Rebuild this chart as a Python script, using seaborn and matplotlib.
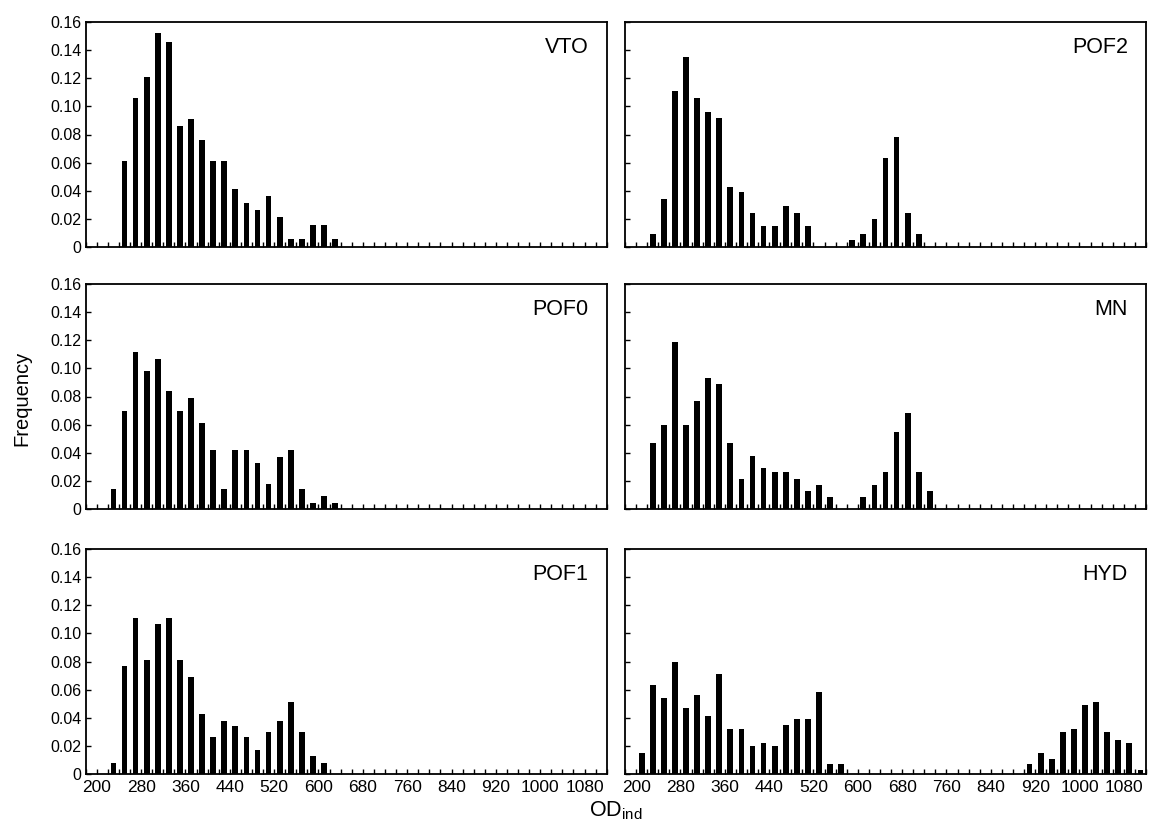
import numpy as np
import pandas as pd
import matplotlib
matplotlib.use("Agg")
import matplotlib.pyplot as plt
import seaborn as sns
from matplotlib.ticker import MultipleLocator, FuncFormatter

sns.set_style("ticks")
plt.rcParams['font.family'] = ['Liberation Sans', 'DejaVu Sans']
plt.rcParams['mathtext.fontset'] = 'custom'
plt.rcParams['mathtext.rm'] = 'Liberation Sans'
plt.rcParams['mathtext.it'] = 'Liberation Sans:italic'
plt.rcParams['text.color'] = 'black'
plt.rcParams['xtick.color'] = 'black'
plt.rcParams['ytick.color'] = 'black'
plt.rcParams['axes.labelcolor'] = 'black'
plt.rcParams['axes.edgecolor'] = 'black'

# ---------------- data (bin centres of OD_ind, frequency) ----------------
panels = ["VTO", "POF2", "POF0", "MN", "POF1", "HYD"]

vto_x = [250, 270, 290, 310, 330, 350, 370, 390, 410, 430,
         450, 470, 490, 510, 530, 550, 570, 590, 610, 630]
vto_y = [0.061, 0.106, 0.121, 0.152, 0.146, 0.086, 0.091, 0.076, 0.061, 0.061,
         0.041, 0.031, 0.026, 0.036, 0.021, 0.006, 0.006, 0.016, 0.016, 0.006]

pof2_x = [230, 250, 270, 290, 310, 330, 350, 370, 390, 410, 430, 450, 470, 490, 510,
          590, 610, 630, 650, 670, 690, 710]
pof2_y = [0.009, 0.034, 0.111, 0.135, 0.106, 0.096, 0.092, 0.043, 0.039, 0.024,
          0.015, 0.015, 0.029, 0.024, 0.015,
          0.005, 0.009, 0.020, 0.063, 0.078, 0.024, 0.009]

pof0_x = [230, 250, 270, 290, 310, 330, 350, 370, 390, 410, 430,
          450, 470, 490, 510, 530, 550, 570, 590, 610, 630]
pof0_y = [0.014, 0.070, 0.112, 0.098, 0.107, 0.084, 0.070, 0.079, 0.061, 0.042, 0.014,
          0.042, 0.042, 0.033, 0.018, 0.037, 0.042, 0.014, 0.0045, 0.009, 0.0045]

mn_x = [230, 250, 270, 290, 310, 330, 350, 370, 390, 410, 430, 450, 470, 490, 510, 530, 550,
        610, 630, 650, 670, 690, 710, 730]
mn_y = [0.047, 0.060, 0.119, 0.060, 0.077, 0.093, 0.089, 0.047, 0.021, 0.038, 0.029,
        0.026, 0.026, 0.021, 0.013, 0.017, 0.0085,
        0.0085, 0.017, 0.026, 0.055, 0.068, 0.026, 0.013]

pof1_x = [230, 250, 270, 290, 310, 330, 350, 370, 390, 410,
          430, 450, 470, 490, 510, 530, 550, 570, 590, 610]
pof1_y = [0.008, 0.077, 0.111, 0.081, 0.107, 0.111, 0.081, 0.069, 0.043, 0.026,
          0.038, 0.034, 0.026, 0.017, 0.030, 0.038, 0.051, 0.030, 0.013, 0.008]

hyd_x = [210, 230, 250, 270, 290, 310, 330, 350, 370, 390, 410, 430, 450, 470, 490,
         510, 530, 550, 570,
         910, 930, 950, 970, 990, 1010, 1030, 1050, 1070, 1090, 1110]
hyd_y = [0.015, 0.063, 0.054, 0.080, 0.047, 0.056, 0.041, 0.071, 0.032, 0.032,
         0.020, 0.022, 0.020, 0.035, 0.039, 0.039, 0.058, 0.007, 0.007,
         0.007, 0.015, 0.011, 0.030, 0.032, 0.049, 0.051, 0.030, 0.024, 0.022, 0.0026]

x_tick_labels = [200, 280, 360, 440, 520, 600, 680, 760, 840, 920, 1000, 1080]
y_tick_values = [0, 0.02, 0.04, 0.06, 0.08, 0.10, 0.12, 0.14, 0.16]

series = {
    "VTO": (vto_x, vto_y), "POF2": (pof2_x, pof2_y),
    "POF0": (pof0_x, pof0_y), "MN": (mn_x, mn_y),
    "POF1": (pof1_x, pof1_y), "HYD": (hyd_x, hyd_y),
}
frames = []
for name in panels:
    xs, ys = series[name]
    frames.append(pd.DataFrame({"panel": name, "od": xs, "freq": ys}))
df = pd.concat(frames, ignore_index=True)

# ---------------- layout ----------------
FW, FH = 1151, 827
fig = plt.figure(figsize=(FW / 100, FH / 100), dpi=100)
lefts = [85.7, 625.0]
tops = [22.0, 284.0, 549.0]
W, H = 521.0, 225.0

yfmt = FuncFormatter(lambda v, p: "0" if abs(v) < 1e-9 else f"{v:.2f}")

for i, name in enumerate(panels):
    r, c = divmod(i, 2)
    ax = fig.add_axes([lefts[c] / FW, 1 - (tops[r] + H) / FH, W / FW, H / FH])
    sub = df[df["panel"] == name]
    sns.barplot(data=sub, x="od", y="freq", native_scale=True, width=0.52,
                color="black", saturation=1, errorbar=None, linewidth=0, ax=ax)
    ax.set_xlim(180, 1120)
    ax.set_ylim(0, 0.16)
    ax.set_xticks(x_tick_labels)
    ax.xaxis.set_minor_locator(MultipleLocator(20))
    ax.set_yticks(y_tick_values)
    ax.yaxis.set_major_formatter(yfmt)
    ax.set_xlabel("")
    ax.set_ylabel("")
    for sp in ax.spines.values():
        sp.set_visible(True)
        sp.set_color("black")
        sp.set_linewidth(1.3)
    ax.tick_params(which="both", direction="in", length=3.5, width=1.0,
                   color="black", labelcolor="black", top=False, right=False)
    ax.tick_params(axis="x", labelsize=12.5, pad=4)
    ax.tick_params(axis="y", labelsize=11.5, pad=3)
    if r < 2:
        ax.tick_params(axis="x", labelbottom=False)
    if c == 1:
        ax.tick_params(axis="y", labelleft=False)
    ax.text(0.965, 0.885, name, transform=ax.transAxes, ha="right", va="center",
            fontsize=15.5, color="black")

fig.text(22 / FW, 1 - 398 / FH, "Frequency", rotation=90, ha="center",
         va="center", fontsize=14.5, color="black")
fig.text(616 / FW, 1 - 811 / FH, r"OD$_{\mathrm{ind}}$", ha="center",
         va="center", fontsize=15.5, color="black")

fig.savefig("out.png", dpi=100, facecolor="white")
